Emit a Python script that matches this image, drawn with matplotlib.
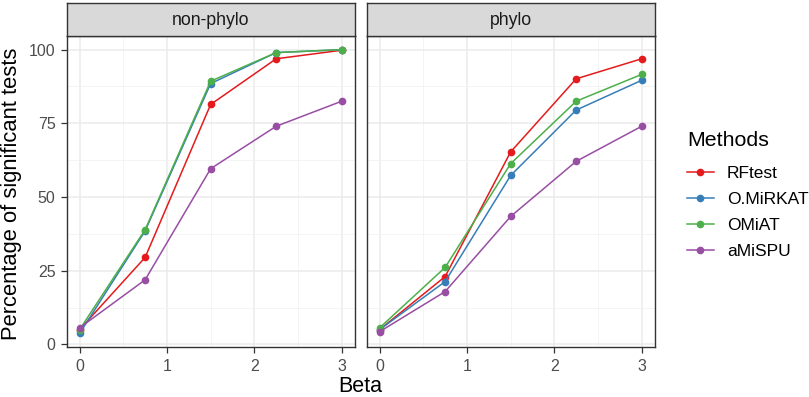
import matplotlib.pyplot as plt
import numpy as np
from matplotlib.ticker import MultipleLocator

plt.rcParams["font.family"] = ["Liberation Sans", "DejaVu Sans"]

# data
beta = [0, 0.75, 1.5, 2.25, 3]
methods = ["RFtest", "O.MiRKAT", "OMiAT", "aMiSPU"]
colors = ["#E41A1C", "#377EB8", "#4DAF4A", "#984EA3"]
panels = ["non-phylo", "phylo"]

nonphylo = {
    "RFtest": [5.0, 29.5, 81.4, 96.9, 99.8],
    "O.MiRKAT": [3.7, 38.5, 88.5, 99.0, 100.0],
    "OMiAT": [5.0, 38.9, 89.3, 99.0, 100.0],
    "aMiSPU": [5.6, 21.9, 59.6, 74.0, 82.5],
}
phylo = {
    "RFtest": [5.0, 23.0, 65.3, 90.1, 96.9],
    "O.MiRKAT": [5.0, 21.3, 57.3, 79.5, 89.6],
    "OMiAT": [5.6, 26.1, 61.3, 82.5, 91.6],
    "aMiSPU": [4.3, 17.9, 43.4, 62.1, 74.0],
}
panel_data = [nonphylo, phylo]

W, H = 809, 397
fig = plt.figure(figsize=(W / 100, H / 100), dpi=100)

# panel boxes in pixels: left, right
lefts = [66.5, 366.5]
rights = [354.8, 654.8]
top, bottom = 35.5, 347.0
strip_top = 3.0

ymin, ymax = -0.9, 104.8
xmin, xmax = -0.15, 3.15

for i, (name, data) in enumerate(zip(panels, panel_data)):
    ax = fig.add_axes([lefts[i] / W, 1 - bottom / H,
                       (rights[i] - lefts[i]) / W, (bottom - top) / H])
    ax.set_facecolor("white")
    ax.set_xlim(xmin, xmax)
    ax.set_ylim(ymin, ymax)
    ax.xaxis.set_major_locator(MultipleLocator(1))
    ax.xaxis.set_minor_locator(MultipleLocator(0.5))
    ax.yaxis.set_major_locator(MultipleLocator(25))
    ax.yaxis.set_minor_locator(MultipleLocator(12.5))
    ax.grid(True, which="major", color="#EBEBEB", linewidth=1.1)
    ax.grid(True, which="minor", color="#F2F2F2", linewidth=0.6)
    ax.set_axisbelow(True)
    ax.tick_params(which="minor", length=0)
    ax.tick_params(which="major", length=4.5, width=0.9, color="#333333",
                   labelcolor="#4D4D4D", labelsize=11.5, pad=3.5)
    ax.tick_params(axis="x", pad=4)
    for s in ax.spines.values():
        s.set_color("#333333")
        s.set_linewidth(1.0)
    if i > 0:
        ax.tick_params(axis="y", labelleft=False, length=0)

    for m, c in zip(methods, colors):
        ax.plot(beta, data[m], color=c, linewidth=1.1, marker="o",
                markersize=4.5, label=m)

    # facet strip
    sax = fig.add_axes([lefts[i] / W, 1 - top / H,
                        (rights[i] - lefts[i]) / W, (top - strip_top) / H])
    sax.set_facecolor("#D9D9D9")
    sax.set_xticks([])
    sax.set_yticks([])
    for s in sax.spines.values():
        s.set_color("#333333")
        s.set_linewidth(1.0)
    sax.text(0.5, 0.45, name, ha="center", va="center", fontsize=12.7,
             color="#1A1A1A", transform=sax.transAxes)

    if i == 0:
        handles, labels = ax.get_legend_handles_labels()

fig.text(360.5 / W, 1 - 387 / H, "Beta", ha="center", va="center",
         fontsize=15.5, color="black")
fig.text(12 / W, 1 - 194 / H, "Percentage of significant tests",
         ha="center", va="center", rotation=90, fontsize=15.8, color="black")

leg = fig.legend(handles, labels, title="Methods", loc="upper left",
                 bbox_to_anchor=(680 / W, 1 - 124 / H), frameon=False,
                 fontsize=12.5, title_fontsize=15.4, handlelength=1.55,
                 handletextpad=0.75, labelspacing=0.62, borderaxespad=0)
leg._legend_box.align = "left"
leg._legend_box.sep = 0.62 * 12.5 + 4

fig.savefig("out.png", dpi=100, facecolor="white")
